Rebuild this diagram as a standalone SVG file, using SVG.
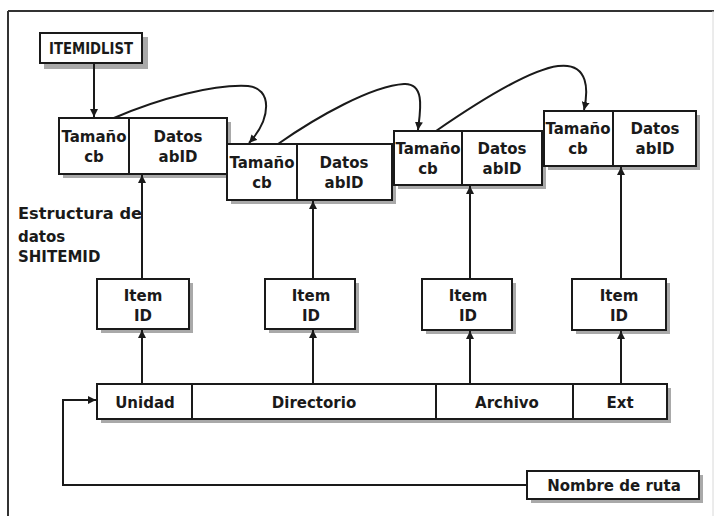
<svg xmlns="http://www.w3.org/2000/svg" width="714" height="516" viewBox="0 0 714 516">
  <style>
    .box { fill: #ffffff; stroke: #1a1a1a; stroke-width: 2; }
    .div { stroke: #1a1a1a; stroke-width: 2; }
    .shadow { fill: #a9a9a9; }
    .lbl { font-family: "DejaVu Sans", "Liberation Sans", sans-serif; font-weight: bold; font-size: 15px; fill: #1a1a1a; text-anchor: middle; }
    .note { font-family: "DejaVu Sans", "Liberation Sans", sans-serif; font-weight: bold; font-size: 15px; fill: #1a1a1a; }
    .wire { fill: none; stroke: #1a1a1a; stroke-width: 2; }
  </style>
  <defs>
    <marker id="arrow" viewBox="0 0 10 10" refX="10" refY="5" markerWidth="8" markerHeight="8" markerUnits="userSpaceOnUse" orient="auto">
      <path d="M0,0 L10,5 L0,10 Z" fill="#1a1a1a"/>
    </marker>
  </defs>

  <rect width="714" height="516" fill="#ffffff"/>

  <!-- outer frame -->
  <g id="frame">
    <line x1="8" y1="11" x2="714" y2="11" stroke="#333" stroke-width="2"/>
    <line x1="8" y1="11" x2="8" y2="516" stroke="#333" stroke-width="2"/>
    <line x1="713" y1="11" x2="713" y2="516" stroke="#d8d8d8" stroke-width="1"/>
  </g>

  <!-- list head -->
  <g id="itemidlist">
    <rect class="shadow" x="44" y="37" width="104" height="32"/>
    <rect class="box" x="40" y="33" width="102" height="30"/>
    <text class="lbl" x="91" y="54" font-size="14" textLength="84" lengthAdjust="spacingAndGlyphs">ITEMIDLIST</text>
  </g>

  <!-- SHITEMID structures -->
  <g id="struct1">
    <rect class="shadow" x="63" y="122" width="168" height="56"/>
    <rect class="box" x="59" y="118" width="168" height="56"/>
    <line class="div" x1="129" y1="118" x2="129" y2="174"/>
    <text class="lbl" x="94" y="142">Tamaño</text>
    <text class="lbl" x="94" y="162">cb</text>
    <text class="lbl" x="178" y="142">Datos</text>
    <text class="lbl" x="178" y="162">abID</text>
  </g>
  <g id="struct2">
    <rect class="shadow" x="231" y="148" width="165" height="56"/>
    <rect class="box" x="227" y="144" width="165" height="56"/>
    <line class="div" x1="297" y1="144" x2="297" y2="200"/>
    <text class="lbl" x="262" y="168">Tamaño</text>
    <text class="lbl" x="262" y="188">cb</text>
    <text class="lbl" x="344" y="168">Datos</text>
    <text class="lbl" x="344" y="188">abID</text>
  </g>
  <g id="struct3">
    <rect class="shadow" x="398" y="135" width="148" height="54"/>
    <rect class="box" x="394" y="131" width="148" height="54"/>
    <line class="div" x1="462" y1="131" x2="462" y2="185"/>
    <text class="lbl" x="428" y="154">Tamaño</text>
    <text class="lbl" x="428" y="174">cb</text>
    <text class="lbl" x="502" y="154">Datos</text>
    <text class="lbl" x="502" y="174">abID</text>
  </g>
  <g id="struct4">
    <rect class="shadow" x="548" y="115" width="152" height="55"/>
    <rect class="box" x="544" y="111" width="152" height="55"/>
    <line class="div" x1="613" y1="111" x2="613" y2="166"/>
    <text class="lbl" x="578" y="134">Tamaño</text>
    <text class="lbl" x="578" y="154">cb</text>
    <text class="lbl" x="655" y="134">Datos</text>
    <text class="lbl" x="655" y="154">abID</text>
  </g>

  <!-- side caption -->
  <g id="caption">
    <text class="note" x="18" y="219" textLength="124" lengthAdjust="spacingAndGlyphs">Estructura de</text>
    <text class="note" x="18" y="242">datos</text>
    <text class="note" x="18" y="262">SHITEMID</text>
  </g>

  <!-- item ids -->
  <g id="item1">
    <rect class="shadow" x="101" y="283" width="92" height="50"/>
    <rect class="box" x="97" y="279" width="92" height="50"/>
    <text class="lbl" x="143" y="301">Item</text>
    <text class="lbl" x="143" y="321">ID</text>
  </g>
  <g id="item2">
    <rect class="shadow" x="269" y="283" width="90" height="50"/>
    <rect class="box" x="265" y="279" width="90" height="50"/>
    <text class="lbl" x="311" y="301">Item</text>
    <text class="lbl" x="311" y="321">ID</text>
  </g>
  <g id="item3">
    <rect class="shadow" x="426" y="283" width="90" height="51"/>
    <rect class="box" x="422" y="279" width="90" height="51"/>
    <text class="lbl" x="468" y="301">Item</text>
    <text class="lbl" x="468" y="321">ID</text>
  </g>
  <g id="item4">
    <rect class="shadow" x="576" y="283" width="94" height="51"/>
    <rect class="box" x="572" y="279" width="94" height="51"/>
    <text class="lbl" x="619" y="301">Item</text>
    <text class="lbl" x="619" y="321">ID</text>
  </g>

  <!-- path bar -->
  <g id="pathbar">
    <rect class="shadow" x="101" y="388" width="570" height="35"/>
    <rect class="box" x="97" y="384" width="570" height="35"/>
    <line class="div" x1="192" y1="384" x2="192" y2="419"/>
    <line class="div" x1="436" y1="384" x2="436" y2="419"/>
    <line class="div" x1="573" y1="384" x2="573" y2="419"/>
    <text class="lbl" x="145" y="408">Unidad</text>
    <text class="lbl" x="314" y="408">Directorio</text>
    <text class="lbl" x="507" y="408">Archivo</text>
    <text class="lbl" x="620" y="408">Ext</text>
  </g>

  <g id="pathname">
    <rect class="shadow" x="531" y="475" width="172" height="28"/>
    <rect class="box" x="527" y="471" width="172" height="28"/>
    <text class="lbl" x="614" y="491">Nombre de ruta</text>
  </g>

  <!-- connectors -->
  <g id="connectors">
    <line class="wire" x1="94" y1="64" x2="94" y2="117" marker-end="url(#arrow)"/>

    <path class="wire" d="M114,118 C160,98 215,84 248,86 C272,88 272,118 249,143" marker-end="url(#arrow)"/>
    <path class="wire" d="M278,144 C318,116 372,86 404,84 C426,83 420,112 418,130" marker-end="url(#arrow)"/>
    <path class="wire" d="M436,131 C478,102 528,70 558,66 C590,62 588,92 584,110" marker-end="url(#arrow)"/>

    <line class="wire" x1="142" y1="279" x2="142" y2="175" marker-end="url(#arrow)"/>
    <line class="wire" x1="313" y1="279" x2="313" y2="201" marker-end="url(#arrow)"/>
    <line class="wire" x1="470" y1="279" x2="470" y2="186" marker-end="url(#arrow)"/>
    <line class="wire" x1="621" y1="279" x2="621" y2="167" marker-end="url(#arrow)"/>

    <line class="wire" x1="142" y1="384" x2="142" y2="330" marker-end="url(#arrow)"/>
    <line class="wire" x1="313" y1="384" x2="313" y2="330" marker-end="url(#arrow)"/>
    <line class="wire" x1="470" y1="384" x2="470" y2="331" marker-end="url(#arrow)"/>
    <line class="wire" x1="621" y1="384" x2="621" y2="331" marker-end="url(#arrow)"/>

    <polyline class="wire" points="527,485 63,485 63,400 96,400" marker-end="url(#arrow)"/>
  </g>
</svg>
